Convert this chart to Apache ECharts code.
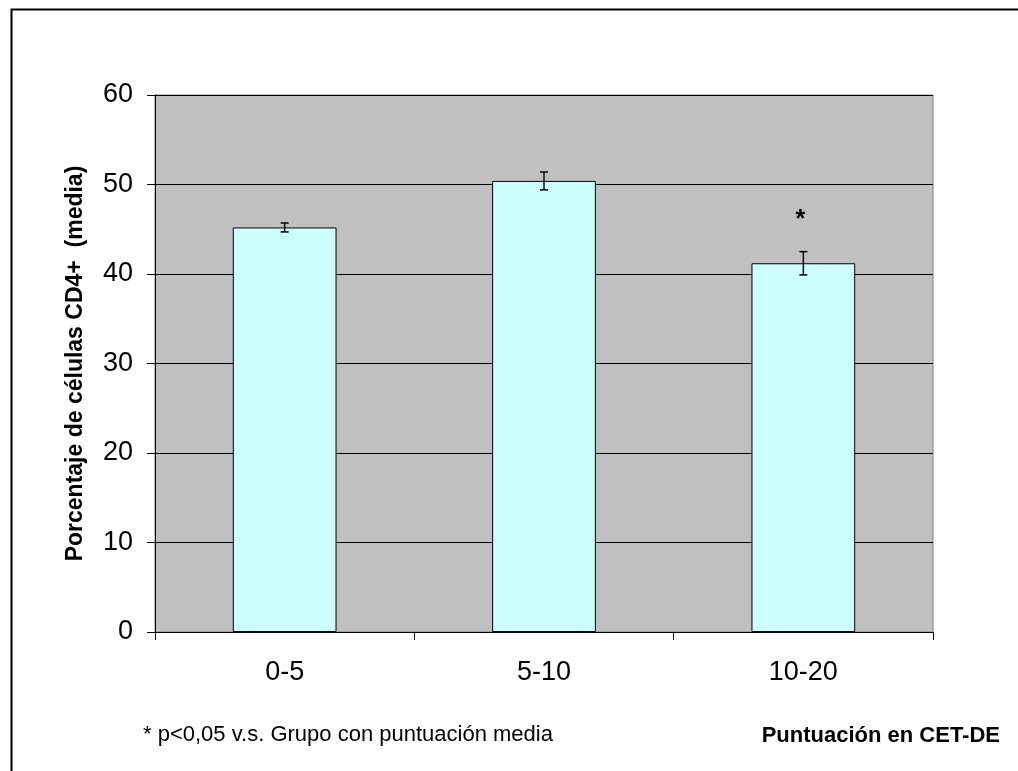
<!DOCTYPE html>
<html>
<head>
<meta charset="utf-8">
<script src="https://cdn.jsdelivr.net/npm/echarts@6/dist/echarts.min.js"></script>
<style>
  html, body { margin: 0; padding: 0; background: #fff; }
  #chart { width: 1018px; height: 771px; }
</style>
</head>
<body>
<div id="chart"></div>
<script>
// CD4+ percentage (mean) by CET-DE score group
const categories = ['0-5', '5-10', '10-20'];
const means = [45.2, 50.4, 41.2];
const errors = [0.5, 1.0, 1.3];
const marks = ['', '', '*'];
const yTicks = { min: 0, max: 60, interval: 10 };

const FONT = '"Liberation Sans", Arial, sans-serif';

const chart = echarts.init(document.getElementById('chart'));

chart.setOption({
  animation: false,
  backgroundColor: '#fff',
  grid: {
    left: 155, right: 85, top: 95, bottom: 139,
    show: true, backgroundColor: '#C0C0C0', borderColor: '#808080', borderWidth: 1
  },
  xAxis: {
    type: 'category',
    data: categories,
    axisLine: { lineStyle: { color: '#000', width: 1 } },
    axisTick: { show: true, alignWithLabel: false, length: 8, lineStyle: { color: '#000' } },
    axisLabel: { color: '#000', fontFamily: FONT, fontSize: 27, margin: 27 },
    splitLine: { show: false }
  },
  yAxis: {
    type: 'value',
    min: yTicks.min, max: yTicks.max, interval: yTicks.interval,
    name: 'Porcentaje de células CD4+  (media)',
    nameLocation: 'middle',
    nameGap: 68,
    nameTextStyle: { color: '#000', fontFamily: FONT, fontSize: 23, fontWeight: 'bold' },
    axisLine: { show: true, lineStyle: { color: '#000', width: 1 } },
    axisTick: { show: true, length: 8, lineStyle: { color: '#000' } },
    axisLabel: { color: '#000', fontFamily: FONT, fontSize: 27, margin: 22 },
    splitLine: { show: true, lineStyle: { color: '#000', width: 1 } }
  },
  series: [
    {
      type: 'bar',
      data: means,
      barWidth: '40%',
      itemStyle: { color: '#CCFFFF', borderColor: '#000', borderWidth: 1 },
      z: 2
    },
    {
      type: 'custom',
      z: 3,
      data: categories.map((c, i) => [i, means[i] - errors[i], means[i] + errors[i], marks[i]]),
      renderItem: function (params, api) {
        const i = api.value(0);
        const lo = api.coord([i, api.value(1)]);
        const hi = api.coord([i, api.value(2)]);
        const x = lo[0];
        const half = 4;
        const children = [
          { type: 'line', shape: { x1: x, y1: lo[1], x2: x, y2: hi[1] }, style: { stroke: '#111', lineWidth: 1.5 } },
          { type: 'line', shape: { x1: x - half, y1: lo[1], x2: x + half, y2: lo[1] }, style: { stroke: '#000', lineWidth: 1.5 } },
          { type: 'line', shape: { x1: x - half, y1: hi[1], x2: x + half, y2: hi[1] }, style: { stroke: '#000', lineWidth: 1.5 } }
        ];
        const mark = marks[i];
        if (mark) {
          children.push({
            type: 'text',
            style: {
              text: mark, x: x - 3, y: hi[1] - 32,
              align: 'center', verticalAlign: 'middle',
              fill: '#000', font: 'bold 25px ' + FONT
            }
          });
        }
        return { type: 'group', children: children };
      }
    }
  ],
  graphic: [
    {
      type: 'rect', left: 9, top: 7, silent: true,
      shape: { width: 1100, height: 900 },
      style: { fill: 'none', stroke: '#000', lineWidth: 2 }
    },
    {
      type: 'text', left: 143, top: 724,
      style: { text: '* p<0,05 v.s. Grupo con puntuación media', fill: '#000', font: '22px ' + FONT }
    },
    {
      type: 'text', right: 18, top: 725,
      style: { text: 'Puntuación en CET-DE', fill: '#000', font: 'bold 22px ' + FONT }
    }
  ]
});
</script>
</body>
</html>
